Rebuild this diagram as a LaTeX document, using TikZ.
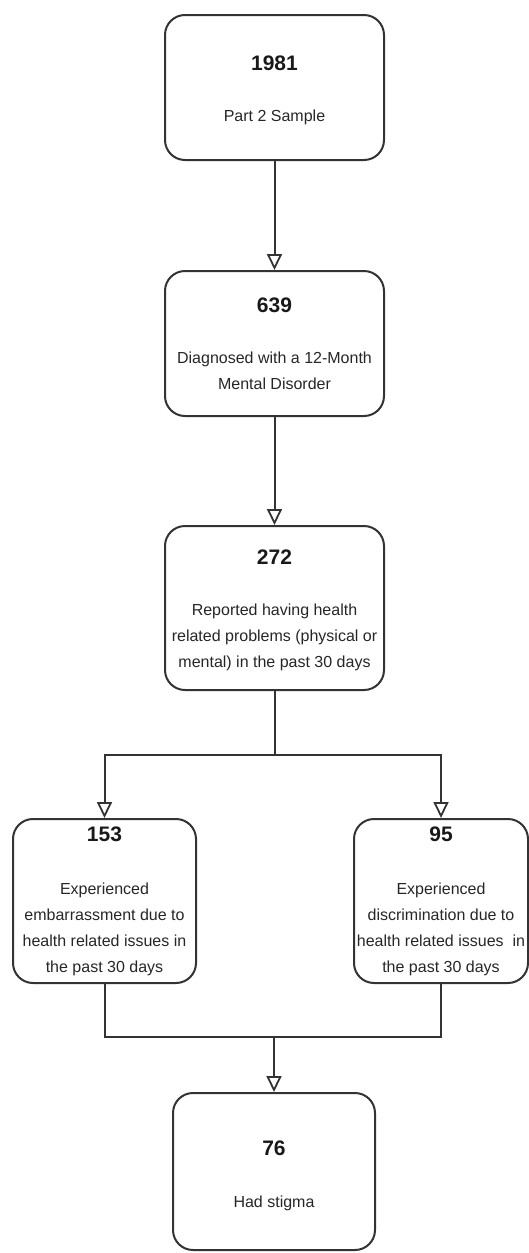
\documentclass[tikz,border=0pt]{standalone}
\usepackage{fontspec}
\setmainfont{Liberation Sans}
\usepackage{tikz}
\usetikzlibrary{arrows.meta}

\begin{document}
\begin{tikzpicture}[x=1pt,y=-1pt]
              \tikzstyle{every node}+=[inner sep=0pt]
              \tikzstyle{stage}=[draw=black!80, line width=2pt, rounded corners=20pt]
              \tikzstyle{count}=[font=\fontsize{21}{24}\selectfont\bfseries, text=black!90]
              \tikzstyle{info}=[font=\fontsize{16}{26}\selectfont, text=black!85, align=center]
              \tikzstyle{link}=[draw=black!80, line width=2pt]
              \tikzstyle{flow}=[link, -{Triangle[open, length=16pt, width=15pt, line width=1.8pt]}]
              \useasboundingbox (0,0) rectangle (529,1253);
              \node [stage, minimum width=219pt, minimum height=145pt] (sample) at (274.5,87.5) {};
              \node [count] (sampleN) at (274.5,63) {1981};
              \node [info] (sampleT) at (274.5,117) {Part 2 Sample};
              \node [stage, minimum width=219pt, minimum height=145pt] (diag) at (274.5,343.5) {};
              \node [count] (diagN) at (274.5,305) {639};
              \node [info] (diagT) at (274.5,371) {Diagnosed with a 12-Month\\Mental Disorder};
              \node [stage, minimum width=219pt, minimum height=164pt] (health) at (274.5,608) {};
              \node [count] (healthN) at (274.5,557) {272};
              \node [info] (healthT) at (274.5,637) {Reported having health\\related problems (physical or\\mental) in the past 30 days};
              \node [stage, minimum width=183pt, minimum height=164pt] (embar) at (104.5,901) {};
              \node [count] (embarN) at (104.5,834) {153};
              \node [info] (embarT) at (104.5,929) {Experienced\\embarrassment due to\\health related issues in\\the past 30 days};
              \node [stage, minimum width=174pt, minimum height=164pt] (discr) at (441,901) {};
              \node [count] (discrN) at (441,834) {95};
              \node [info] (discrT) at (441,929) {Experienced\\discrimination due to\\health related issues~~in\\the past 30 days};
              \node [stage, minimum width=202pt, minimum height=157pt] (stigma) at (274,1171.5) {};
              \node [count] (stigmaN) at (274,1148) {76};
              \node [info] (stigmaT) at (274,1203) {Had stigma};
              \coordinate (split) at (274.5,755);
              \coordinate (merge) at (274,1037);
              \draw [flow] (sample) -- (diag);
              \draw [flow] (diag) -- (health);
              \draw [link] (health.south) -- (split);
              \draw [flow] (split) -| (embar.north);
              \draw [flow] (split) -| (discr.north);
              \draw [link] (embar.south) |- (merge) -| (discr.south);
              \draw [flow] (merge) -- (stigma.north);
            \end{tikzpicture}
\end{document}
